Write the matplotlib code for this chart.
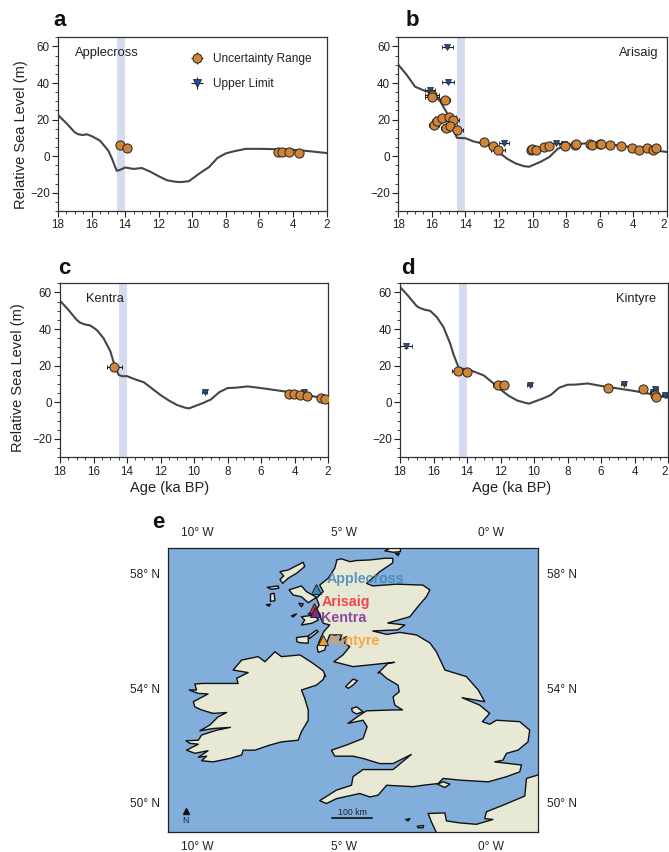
import matplotlib
matplotlib.use("Agg")
import matplotlib.pyplot as plt
from matplotlib.ticker import MultipleLocator

plt.rcParams["font.family"] = ["Liberation Sans", "DejaVu Sans"]

W, H = 669, 852

# Modelled relative sea level curves (ka BP, m)
curve_a_age = [18, 17.5, 17, 16.8, 16.5, 16.3, 16, 15.5, 15, 14.8, 14.5, 14.3, 14, 13.5, 13, 12.5, 12, 11.5, 11, 10.7, 10.2, 9.5, 9, 8.5, 8, 7.5, 6.8, 6, 5, 4, 3, 2]
curve_a_rsl = [22.5, 18, 13, 12, 11.5, 12, 11, 8.5, 3, -1, -8, -7.5, -6.2, -7, -6.5, -8.5, -11, -13.2, -14, -14.2, -13.7, -9, -6, -1, 1.5, 2.7, 4, 4, 3.8, 3.5, 2.7, 1.7]
curve_b_age = [18, 17.5, 17, 16.5, 16, 15.5, 15, 14.7, 14.5, 14, 13.5, 13, 12.5, 12, 11.5, 11, 10.5, 10.2, 9.5, 9, 8.5, 8, 7.5, 6.8, 6, 5, 4, 3, 2]
curve_b_rsl = [50, 44.5, 38, 36, 34.5, 30, 22, 14, 10, 9.8, 8, 7, 5.5, 2, -1.5, -4, -5.5, -5.8, -3, -0.5, 4, 6, 6.5, 7, 6.8, 6, 4.8, 3.5, 2.3]
curve_c_age = [18, 17.5, 17, 16.8, 16.5, 16.2, 15.8, 15.4, 15, 14.8, 14.5, 14.3, 14, 13.5, 13, 12.5, 12, 11.5, 11, 10.5, 10.3, 9.5, 9, 8.5, 8, 7.5, 6.8, 6, 5, 4, 3, 2]
curve_c_rsl = [55.5, 50.5, 45, 43.5, 42.5, 42, 39.5, 35, 28, 22, 15, 14.3, 14.3, 12.5, 11, 7.5, 4, 1, -1.5, -3, -3.3, -0.5, 1.5, 5.5, 7.8, 8, 8.7, 7.8, 6.5, 5.2, 3.5, 1.8]
curve_d_age = [18, 17.5, 17, 16.8, 16.5, 16.2, 15.8, 15.4, 15, 14.8, 14.5, 14.3, 14, 13.5, 13, 12.5, 12, 11.5, 11, 10.5, 10.3, 9.5, 9, 8.5, 8, 7.5, 6.8, 6, 5, 4, 3, 2]
curve_d_rsl = [63, 58, 52.5, 51.5, 50.5, 50, 46.5, 41, 32, 26, 19, 18.3, 18.3, 16.5, 14.7, 11, 7, 3.5, 1, -0.3, -0.7, 2, 4, 8, 9.6, 9.7, 10.3, 9, 7.6, 6.2, 4.5, 2.5]

# Observations with uncertainty range
obs_a_age = [14.3, 13.9, 4.9, 4.65, 4.25, 3.65]
obs_a_rsl = [6, 4.7, 2.2, 2.1, 2.1, 1.6]
obs_a_xerr = [0.15, 0.15, 0.15, 0.15, 0.15, 0.15]
obs_b_age = [16, 16, 15.2, 15.85, 15.67, 15.4, 14.96, 14.76, 15.16, 14.92, 14.52, 12.9, 12.37, 12.05, 10.1, 10.03, 9.8, 9.3, 9.0, 8.05, 7.45, 7.4, 6.55, 6.45, 6.0, 5.9, 5.4, 4.75, 4.05, 3.65, 3.15, 2.8, 2.65]
obs_b_rsl = [33.6, 32.2, 30.9, 16.8, 19.3, 20.8, 21.4, 19.7, 15.3, 16.7, 14.5, 8, 5.5, 3.6, 3.2, 4, 3.6, 5, 5.4, 5.8, 6.2, 6.7, 6.7, 6.3, 6.7, 6.9, 6.3, 5.3, 4.3, 3.6, 4.5, 3.2, 4.5]
obs_b_xerr = [0.4, 0.4, 0.3, 0.3, 0.3, 0.4, 0.4, 0.4, 0.3, 0.4, 0.4, 0.2, 0.2, 0.4, 0.15, 0.15, 0.15, 0.15, 0.15, 0.15, 0.15, 0.15, 0.15, 0.15, 0.15, 0.15, 0.15, 0.15, 0.15, 0.15, 0.15, 0.15, 0.15]
obs_c_age = [14.75, 4.35, 4.05, 3.7, 3.25, 2.4, 2.2]
obs_c_rsl = [19.5, 4.7, 4.5, 4, 3.5, 2.4, 2.0]
obs_c_xerr = [0.45, 0.15, 0.15, 0.15, 0.15, 0.15, 0.15]
obs_d_age = [14.55, 14, 12.15, 11.8, 5.6, 3.5, 2.8, 2.7]
obs_d_rsl = [17, 16.8, 9.7, 9.7, 8, 7.5, 4, 3]
obs_d_xerr = [0.35, 0.15, 0.3, 0.15, 0.15, 0.15, 0.15, 0.15]

# Upper limit observations
lim_b_age = [15.07, 15.03, 16.1, 11.7, 8.6, 8.15]
lim_b_rsl = [59.8, 40.4, 36, 7, 7, 6.7]
lim_b_xerr = [0.35, 0.35, 0.3, 0.3, 0.3, 0.3]
lim_c_age = [9.35, 3.45]
lim_c_rsl = [5.5, 5.5]
lim_c_xerr = [0.15, 0.15]
lim_d_age = [17.65, 10.25, 4.65, 2.9, 2.75, 2.2]
lim_d_rsl = [30.5, 9.5, 10, 5.5, 7.5, 4]
lim_d_xerr = [0.35, 0.15, 0.15, 0.15, 0.15, 0.15]

# Map outlines (lon, lat)
britain_lon = [-5.26, -5.09, -4.81, -4.58, -4.13, -3.62, -3.35, -3.35, -3.79, -4.24, -4.03, -3.22, -2.33, -2.09, -2.21, -2.50, -2.77, -3.52, -2.94, -3.18, -4.03, -3.56, -3.11, -2.54, -2.09, -1.87, -1.58, -0.85, -0.45, -0.23, -0.997, -0.40, -0.06, -0.31, -0.06, 0.17, 0.96, 1.30, 1.24, 0.90, 0.51, 0.39, 0.11, 1.02, 0.96, 0.51, -0.11, -1.08, -1.64, -1.81, -2.32, -2.66, -3.56, -3.85, -4.13, -4.47, -5.26, -5.60, -5.83, -5.26, -4.75, -4.70, -4.36, -3.34, -2.72, -3.34, -3.79, -4.36, -4.70, -5.32, -5.43, -4.92, -4.36, -4.22, -4.36, -4.87, -4.47, -4.24, -3.34, -3.02, -3.28, -3.34, -3.13, -3.17, -3.56, -3.81, -3.85, -3.51, -3.30, -4.13, -4.70, -5.35, -5.04, -4.81, -4.98, -4.92, -5.15, -5.08, -5.49, -5.60, -5.66, -5.88, -5.92, -5.80, -5.69, -5.49, -5.71, -5.79, -5.83, -5.94, -6.22, -5.94, -5.85, -5.94, -5.71, -5.83, -5.54, -5.32, -5.26]
britain_lat = [58.49, 58.53, 58.43, 58.47, 58.49, 58.55, 58.55, 58.39, 58.08, 57.67, 57.58, 57.64, 57.61, 57.44, 57.20, 56.85, 56.50, 56.28, 56.21, 56.04, 56.00, 55.88, 55.95, 55.86, 55.58, 55.27, 54.63, 54.40, 53.93, 53.52, 53.66, 53.40, 53.11, 52.82, 52.73, 52.87, 52.82, 52.52, 52.11, 51.82, 51.71, 51.47, 51.41, 51.30, 51.06, 50.89, 50.71, 50.77, 50.83, 50.65, 50.59, 50.54, 50.59, 50.24, 50.18, 50.30, 50.12, 49.95, 50.05, 50.42, 50.59, 50.89, 51.14, 51.14, 51.67, 51.35, 51.35, 51.53, 51.61, 51.61, 51.82, 52.00, 52.23, 52.64, 52.87, 52.76, 53.05, 53.20, 53.23, 53.23, 53.40, 53.69, 53.87, 54.10, 54.34, 54.57, 54.52, 54.87, 54.90, 54.81, 54.75, 54.92, 55.16, 55.45, 55.57, 55.80, 55.68, 55.86, 55.86, 55.57, 55.33, 55.25, 55.43, 55.74, 55.98, 56.21, 56.27, 56.44, 56.62, 56.56, 56.60, 56.74, 56.91, 57.15, 57.38, 57.61, 57.85, 58.20, 58.43]
ireland_lon = [-10.07, -9.81, -9.22, -8.60, -8.65, -8.26, -8.77, -8.48, -7.92, -7.69, -7.35, -7.13, -6.50, -6.05, -5.71, -5.63, -5.66, -5.71, -5.94, -6.45, -6.34, -6.22, -6.22, -6.45, -6.56, -7.13, -7.52, -8.03, -8.43, -8.48, -8.88, -9.45, -9.84, -9.67, -9.95, -9.62, -10.07, -10.35, -9.95, -10.24, -10.37, -9.95, -9.84, -9.33, -8.86, -9.45, -9.90, -9.56, -9.28, -8.99, -9.45, -9.84, -10.07, -10.12, -9.90, -9.62, -9.95, -10.26, -10.01]
ireland_lat = [54.14, 54.16, 54.16, 54.16, 54.34, 54.54, 54.63, 54.98, 55.10, 54.92, 55.27, 55.10, 55.16, 54.86, 54.60, 54.40, 54.45, 54.30, 54.10, 53.93, 53.64, 53.23, 52.87, 52.47, 52.17, 52.11, 52.00, 51.82, 51.82, 51.65, 51.53, 51.41, 51.45, 51.61, 51.57, 51.80, 51.71, 51.82, 52.03, 52.06, 52.15, 52.17, 52.35, 52.52, 52.62, 52.58, 52.50, 52.70, 52.99, 53.14, 53.11, 53.23, 53.34, 53.52, 53.64, 53.79, 53.81, 53.93, 53.93]
france_lon = [-2.15, -1.58, -1.53, -1.08, -0.51, 0.05, -0.23, -0.17, 0.39, 1.13, 1.19, 1.58, 2, 2, -1.87, -1.87, -2.04]
france_lat = [49.60, 49.62, 49.34, 49.27, 49.22, 49.39, 49.42, 49.66, 49.89, 50.21, 50.83, 50.95, 50.95, 48.5, 48.5, 48.93, 49.31]
islands = [
    ([-7.18, -6.90, -6.39, -6.34, -6.62, -6.90, -7.09, -7.18, -7.05], [58.08, 58.14, 58.41, 58.26, 58.02, 57.85, 57.67, 57.81, 57.93]),
    ([-7.61, -7.24, -7.22, -7.47], [57.53, 57.58, 57.50, 57.46]),
    ([-7.50, -7.38, -7.35, -7.50], [57.30, 57.32, 57.06, 57.04]),
    ([-7.64, -7.50, -7.55], [56.92, 56.94, 56.87]),
    ([-6.87, -6.45, -6.28, -5.94, -6.22, -6.45, -6.73], [57.44, 57.58, 57.38, 57.18, 56.99, 57.20, 57.26]),
    ([-6.54, -6.39, -6.45], [56.97, 56.95, 56.85]),
    ([-6.79, -6.62, -6.73], [56.53, 56.60, 56.49]),
    ([-6.45, -5.99, -5.88, -6.10, -6.45, -6.34], [56.50, 56.56, 56.38, 56.27, 56.21, 56.38]),
    ([-6.62, -6.22, -6.22, -6.50, -6.60], [55.77, 55.82, 55.57, 55.59, 55.62]),
    ([-6.22, -5.94, -5.88, -6.17], [55.82, 56.03, 55.98, 55.74]),
    ([-3.62, -3.45, -3.09, -3.09, -3.34], [58.81, 58.90, 58.90, 58.78, 58.76]),
    ([-3.26, -3.13, -3.17], [58.72, 58.72, 58.64]),
    ([-4.95, -4.70, -4.55, -4.70, -4.86], [54.05, 54.31, 54.26, 54.10, 53.99]),
    ([-4.75, -4.58, -4.36, -4.58, -4.72], [53.28, 53.34, 53.17, 53.09, 53.17]),
    ([-1.84, -1.64, -1.41, -1.58], [50.63, 50.71, 50.63, 50.51]),
    ([-2.91, -2.77, -2.83], [49.39, 49.42, 49.34]),
    ([-2.52, -2.30, -2.32, -2.49], [49.15, 49.18, 49.10, 49.10]),
]

site_names = ["Applecross", "Arisaig", "Kentra", "Kintyre"]
site_lon = [-5.96, -6.03, -5.99, -5.72]
site_lat = [57.48, 56.79, 56.65, 55.68]
site_label_lon = [-5.60, -5.77, -5.77, -5.49]
site_label_lat = [57.82, 57.02, 56.46, 55.65]
site_colors = ["#3f86bd", "#f2273a", "#7b2d96", "#fb9a2c"]

lon_ticks = [-10, -5, 0]
lon_labels = ["10° W", "5° W", "0° W"]
lat_ticks = [50, 54, 58]
lat_labels = ["50° N", "54° N", "58° N"]

C_LINE = "#454545"
C_OBS = "#d0843a"
C_LIM = "#1c4f9c"
C_BAND = "#d6dcf0"
C_EDGE = "#333333"


def axes_box(fig, left, top, right, bottom):
    return fig.add_axes([left / W, 1 - bottom / H, (right - left) / W, (bottom - top) / H])


def rsl_panel(ax, curve, obs, lim, site, site_x, site_ha):
    ax.axvspan(14.5, 14, color=C_BAND, lw=0, zorder=1)
    ax.plot(curve[0], curve[1], color=C_LINE, lw=1.5, zorder=2)
    if lim is not None:
        ax.errorbar(lim[0], lim[1], xerr=lim[2], yerr=0.6, fmt="v", ms=5, mfc=C_LIM, mec="#333333",
                    mew=0.6, ecolor="#222222", elinewidth=0.8, capsize=1.3, capthick=0.6, zorder=3)
    ax.errorbar(obs[0], obs[1], xerr=obs[2], yerr=0.9, fmt="o", ms=6.6, mfc=C_OBS, mec="#222222",
                mew=0.7, ecolor="#222222", elinewidth=0.8, capsize=1.3, capthick=0.6, zorder=4)
    ax.set_xlim(18, 2)
    ax.set_ylim(-30, 65)
    ax.set_xticks(range(2, 19, 2))
    ax.set_yticks([-20, 0, 20, 40, 60])
    ax.xaxis.set_minor_locator(MultipleLocator(0.5))
    ax.yaxis.set_minor_locator(MultipleLocator(5))
    ax.tick_params(which="major", length=4, width=0.8, labelsize=8.4, colors="#222222", pad=2)
    ax.tick_params(which="minor", length=2, width=0.6, colors="#222222")
    for spine in ax.spines.values():
        spine.set_color(C_EDGE)
        spine.set_linewidth(0.9)
    ax.text(site_x, 0.908, site, transform=ax.transAxes, fontsize=9.3, color="#222222",
            ha=site_ha, va="center")


fig = plt.figure(figsize=(W / 100, H / 100), dpi=100)

ax_a = axes_box(fig, 58, 37.3, 326.5, 211)
rsl_panel(ax_a, (curve_a_age, curve_a_rsl), (obs_a_age, obs_a_rsl, obs_a_xerr), None, "Applecross", 0.065, "left")
ax_b = axes_box(fig, 398.3, 37.3, 666.7, 211)
rsl_panel(ax_b, (curve_b_age, curve_b_rsl), (obs_b_age, obs_b_rsl, obs_b_xerr), (lim_b_age, lim_b_rsl, lim_b_xerr), "Arisaig", 0.97, "right")
ax_c = axes_box(fig, 60, 283.3, 328, 457.3)
rsl_panel(ax_c, (curve_c_age, curve_c_rsl), (obs_c_age, obs_c_rsl, obs_c_xerr), (lim_c_age, lim_c_rsl, lim_c_xerr), "Kentra", 0.097, "left")
ax_d = axes_box(fig, 400, 283.3, 668, 457.3)
rsl_panel(ax_d, (curve_d_age, curve_d_rsl), (obs_d_age, obs_d_rsl, obs_d_xerr), (lim_d_age, lim_d_rsl, lim_d_xerr), "Kintyre", 0.955, "right")

# the last tick label sits at the figure edge
for ax in [ax_b, ax_d]:
    ax.get_xticklabels()[0].set_ha("right")

# Legend in panel a
obs_handle = ax_a.errorbar([], [], xerr=[], yerr=[], fmt="o", ms=6.6, mfc=C_OBS, mec="#222222", mew=0.7,
                           ecolor="#222222", elinewidth=0.8, capsize=1.5, capthick=0.6, label="Uncertainty Range")
lim_handle = ax_a.errorbar([], [], xerr=[], yerr=[], fmt="v", ms=5.5, mfc=C_LIM, mec="#222222", mew=0.6,
                           ecolor="#222222", elinewidth=0.8, capsize=1.5, capthick=0.6, label="Upper Limit")
ax_a.legend(handles=[obs_handle, lim_handle], frameon=False, fontsize=8.6, labelspacing=1.05,
            handlelength=1.6, handletextpad=0.5, loc="upper left", bbox_to_anchor=(0.448, 0.963),
            borderpad=0.3, labelcolor="#222222")

ax_a.set_ylabel("Relative Sea Level (m)", fontsize=10.5, color="#222222")
ax_a.yaxis.set_label_coords(-0.112, 0.437)
ax_c.set_ylabel("Relative Sea Level (m)", fontsize=10.5, color="#222222")
ax_c.yaxis.set_label_coords(-0.13, 0.46)
ax_c.set_xlabel("Age (ka BP)", fontsize=10.5, color="#222222")
ax_c.xaxis.set_label_coords(0.407, -0.136)
ax_d.set_xlabel("Age (ka BP)", fontsize=10.5, color="#222222")
ax_d.xaxis.set_label_coords(0.417, -0.136)

# Map panel
ax_e = axes_box(fig, 168, 547.7, 538.3, 832.3)
ax_e.set_facecolor("#82aedb")
land = dict(facecolor="#e8e9d5", edgecolor="#111111", linewidth=1.0, joinstyle="round", zorder=2)
ax_e.fill(britain_lon, britain_lat, **land)
ax_e.fill(ireland_lon, ireland_lat, **land)
ax_e.fill(france_lon, france_lat, **land)
for isl_lon, isl_lat in islands:
    ax_e.fill(isl_lon, isl_lat, **land)
ax_e.set_xlim(-10.98, 1.59)
ax_e.set_ylim(48.94, 58.92)
ax_e.set_xticks(lon_ticks)
ax_e.set_xticklabels(lon_labels)
ax_e.set_yticks(lat_ticks)
ax_e.set_yticklabels(lat_labels)
ax_e.tick_params(length=0, labelsize=8.6, top=True, right=True, labeltop=True, labelright=True, colors="#222222")
ax_e.tick_params(axis="x", pad=6)
ax_e.tick_params(axis="y", pad=6)
for spine in ax_e.spines.values():
    spine.set_color("#222222")
    spine.set_linewidth(0.9)

for name, lon, lat, lab_lon, lab_lat, col in zip(site_names, site_lon, site_lat, site_label_lon, site_label_lat, site_colors):
    ax_e.plot(lon, lat, "^", ms=7.5, mfc=col, mec="#222222", mew=0.7, zorder=3)
    ax_e.text(lab_lon, lab_lat, name, color=col, fontsize=10.3, fontweight="bold", alpha=0.85,
              ha="left", va="center", zorder=4)

# Scale bar and north arrow
ax_e.plot([-5.41, -4.04], [49.44, 49.44], color="#111111", lw=1.2, zorder=3)
ax_e.text(-4.72, 49.48, "100 km", fontsize=6.3, color="#222222", ha="center", va="bottom", zorder=3)
ax_e.plot(-10.38, 49.69, "^", ms=4.2, color="#111111", zorder=3)
ax_e.text(-10.38, 49.36, "N", fontsize=6.3, color="#222222", ha="center", va="center", zorder=3)

for letter, x, y in [("a", 60, 21), ("b", 412, 20), ("c", 64, 269), ("d", 408, 268), ("e", 158, 523)]:
    fig.text(x / W, 1 - y / H, letter, fontsize=16, fontweight="bold", color="#111111", ha="center", va="center")

fig.savefig("out.png", dpi=100)
plt.close(fig)
